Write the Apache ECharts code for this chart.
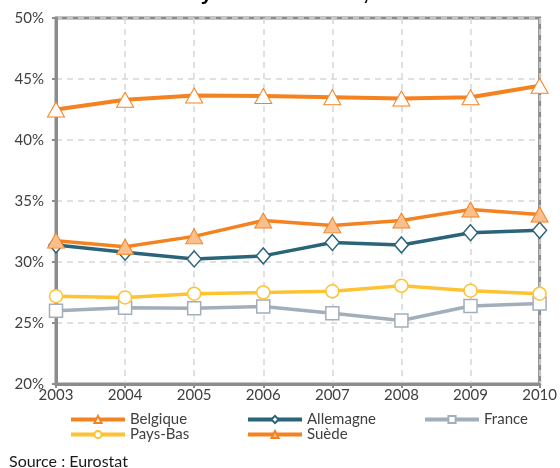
<!DOCTYPE html>
<html>
<head>
<meta charset="utf-8">
<script src="https://cdn.jsdelivr.net/npm/echarts@6/dist/echarts.min.js"></script>
<style>html,body{margin:0;padding:0;background:#fff}#c{width:560px;height:468px}</style>
</head>
<body>
<div id="c"></div>
<script>
var years = ['2003','2004','2005','2006','2007','2008','2009','2010'];
var belgique = [42.5, 43.3, 43.65, 43.6, 43.5, 43.4, 43.5, 44.45];
var allemagne = [31.4, 30.8, 30.25, 30.5, 31.6, 31.4, 32.4, 32.6];
var france = [26.0, 26.25, 26.2, 26.35, 25.8, 25.2, 26.4, 26.6];
var paysBas = [27.2, 27.1, 27.4, 27.5, 27.6, 28.05, 27.65, 27.4];
var suede = [31.75, 31.25, 32.1, 33.4, 33.0, 33.4, 34.3, 33.9];
var yTicks = [20, 25, 30, 35, 40, 45, 50];
var titleText = 'Pays-Bas et Suède, 2003-2010';
var sourceText = 'Source : Eurostat';

var FONT = 'Lato';
var ORANGE = '#F58220', TEAL = '#2A6478', GREY = '#A3AEBB', YELLOW = '#FDC332';

var chart = echarts.init(document.getElementById('c'), null, {renderer: 'canvas'});

function legendItem(name, left, top, lw) {
  return {
    data: [name], left: left, top: top, padding: 0,
    itemWidth: 54, itemHeight: 9, itemGap: 0,
    lineStyle: {width: lw},
    textStyle: {fontFamily: FONT, fontSize: 15, color: '#404040'},
    selectedMode: false
  };
}

var option = {
  animation: false,
  backgroundColor: '#ffffff',
  grid: {left: 56, right: 19, top: 18, bottom: 84, show: true, borderColor: '#8C8C8C', borderWidth: 3},
  legend: [
    legendItem('Belgique', 69, 412, 4),
    legendItem('Allemagne', 246, 412, 4),
    legendItem('France', 423, 412, 4),
    legendItem('Pays-Bas', 69, 427, 4),
    legendItem('Suède', 246, 427, 4)
  ],
  graphic: [
    {type: 'text', x: 325, y: -6, style: {text: titleText, font: 'bold 21px "Liberation Sans"', fill: '#000', textAlign: 'center', textVerticalAlign: 'middle'}},
    {type: 'text', x: 9, y: 462, style: {text: sourceText, font: '16px Lato', fill: '#1a1a1a', textAlign: 'left', textVerticalAlign: 'middle'}}
  ],
  xAxis: {
    type: 'category', data: years, boundaryGap: false,
    axisLine: {show: true, lineStyle: {color: '#8C8C8C', width: 3}},
    axisTick: {show: true, length: 4, lineStyle: {color: '#8C8C8C', width: 2}},
    axisLabel: {fontFamily: FONT, fontSize: 15, color: '#404040', margin: 4},
    splitLine: {show: true, lineStyle: {color: '#D6D6D6', type: [6, 5], width: 1.5}}
  },
  yAxis: {
    type: 'value', min: yTicks[0], max: yTicks[yTicks.length - 1], interval: 5,
    axisLine: {show: true, lineStyle: {color: '#8C8C8C', width: 3}},
    axisTick: {show: true, length: 4, lineStyle: {color: '#8C8C8C', width: 2}},
    axisLabel: {fontFamily: FONT, fontSize: 15, color: '#404040', margin: 12, formatter: function (v) { return v + '%'; }},
    splitLine: {show: true, lineStyle: {color: '#D6D6D6', type: [6, 5], width: 1.5}}
  },
  series: [
    {name: 'Belgique', type: 'line', data: belgique, z: 3,
     lineStyle: {color: ORANGE, width: 4}, itemStyle: {color: '#ffffff', borderColor: ORANGE, borderWidth: 1},
     symbol: 'triangle', symbolSize: [17, 15], showAllSymbol: true, color: ORANGE},
    {name: 'Allemagne', type: 'line', data: allemagne, z: 4,
     lineStyle: {color: TEAL, width: 3.5}, itemStyle: {color: '#ffffff', borderColor: TEAL, borderWidth: 1.5},
     symbol: 'diamond', symbolSize: [14, 16], color: TEAL},
    {name: 'France', type: 'line', data: france, z: 3,
     lineStyle: {color: GREY, width: 3.5}, itemStyle: {color: '#ffffff', borderColor: GREY, borderWidth: 1.5},
     symbol: 'rect', symbolSize: 13, color: GREY},
    {name: 'Pays-Bas', type: 'line', data: paysBas, z: 3,
     lineStyle: {color: YELLOW, width: 3.5}, itemStyle: {color: '#ffffff', borderColor: YELLOW, borderWidth: 1.5},
     symbol: 'circle', symbolSize: 13, color: YELLOW},
    {name: 'Suède', type: 'line', data: suede, z: 5,
     lineStyle: {color: ORANGE, width: 3.5}, itemStyle: {color: '#F9C08E', borderColor: ORANGE, borderWidth: 1},
     symbol: 'triangle', symbolSize: [17, 15], color: ORANGE}
  ]
};
chart.setOption(option);
</script>
</body>
</html>
